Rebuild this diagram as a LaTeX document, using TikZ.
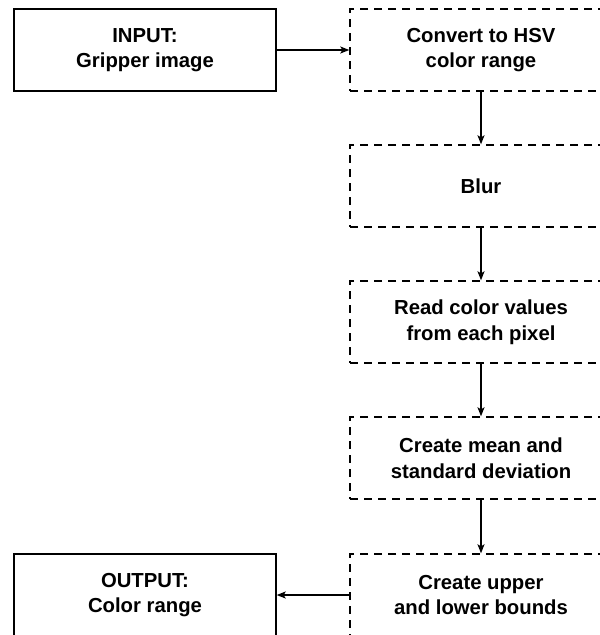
\documentclass[tikz,border=0pt]{standalone}
\usepackage{fontspec}
\setmainfont{Liberation Sans}
\usetikzlibrary{arrows.meta}
\begin{document}
\begin{tikzpicture}[x=1pt,y=1pt,
  box/.style={draw=black, line width=1.4pt, minimum width=262pt, minimum height=82pt,
    align=center, inner sep=0pt,
    font=\fontsize{20.3}{25.5}\selectfont\bfseries},
  solidbox/.style={box},
  dashbox/.style={box, dash pattern=on 8pt off 6pt},
  flow/.style={draw=black, line width=1.4pt, -{Stealth[length=9pt,width=7pt,inset=2pt]}}
]
\useasboundingbox (0,0) rectangle (600,-635);
% left column: input and output
\node[solidbox] (inp) at (145,-50) {INPUT:\\Gripper image};
\node[solidbox] (outp) at (145,-595) {OUTPUT:\\Color range};
% right column: processing steps
\node[dashbox] (hsv)  at (481,-50)  {Convert to HSV\\color range};
\node[dashbox] (blur) at (481,-186) {Blur};
\node[dashbox] (read) at (481,-322) {Read color values\\from each pixel};
\node[dashbox] (stat) at (481,-458) {Create mean and\\standard deviation};
\node[dashbox] (bnd)  at (481,-595) {Create upper\\and lower bounds};
% connectors
\draw[flow] (inp) -- (hsv);
\draw[flow] (hsv) -- (blur);
\draw[flow] (blur) -- (read);
\draw[flow] (read) -- (stat);
\draw[flow] (stat) -- (bnd);
\draw[flow] (bnd) -- (outp);
\end{tikzpicture}
\end{document}
